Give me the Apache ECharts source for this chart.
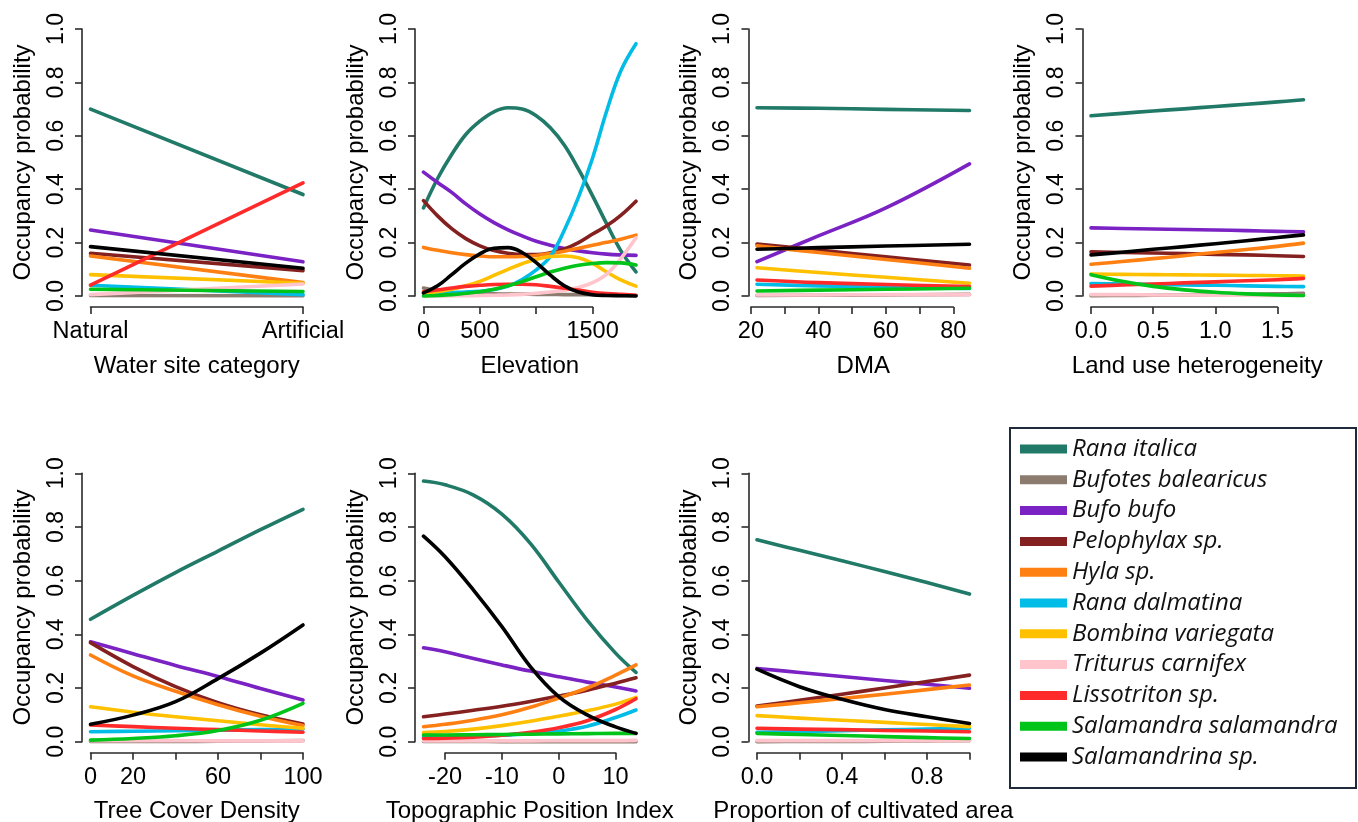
<!DOCTYPE html>
<html><head><meta charset="utf-8">
<script src="https://cdn.jsdelivr.net/npm/echarts@6/dist/echarts.min.js"></script>
<style>html,body{margin:0;padding:0;background:#fff}#c{width:1358px;height:822px}</style>
</head><body><div id="c"></div>
<script>
const species = ['Rana italica','Bufotes balearicus','Bufo bufo','Pelophylax sp.','Hyla sp.','Rana dalmatina','Bombina variegata','Triturus carnifex','Lissotriton sp.','Salamandra salamandra','Salamandrina sp.'];
const colors = ['#217a68','#8c7b6f','#7b22c4','#84201f','#ff8012','#00bce6','#ffc000','#ffc4cc','#ff2a2a','#00c41a','#000000'];

// Panel 1: Water site category
const waterX = [0, 1];
const waterTickLabels = ['Natural', 'Artificial'];
const waterY = [
  [0.70, 0.38], [0.002, 0.001], [0.247, 0.128], [0.16, 0.095], [0.15, 0.05], [0.04, 0.005],
  [0.08, 0.048], [0.005, 0.045], [0.041, 0.424], [0.025, 0.017], [0.185, 0.104]
];
// Panel 2: Elevation
const elevX = [0, 125, 250, 375, 500, 625, 750, 875, 1000, 1125, 1250, 1375, 1500, 1625, 1750, 1885];
const elevTickLabels = ['0', '500', '', '1500'];
const elevY = [
  [0.33, 0.44, 0.53, 0.605, 0.655, 0.69, 0.705, 0.70, 0.675, 0.63, 0.565, 0.475, 0.375, 0.27, 0.17, 0.09],
  [0.03, 0.02, 0.012, 0.01, 0.008, 0.008, 0.007, 0.007, 0.006, 0.006, 0.005, 0.005, 0.004, 0.003, 0.002, 0.002],
  [0.464, 0.425, 0.388, 0.345, 0.307, 0.275, 0.248, 0.225, 0.205, 0.19, 0.178, 0.169, 0.162, 0.157, 0.154, 0.152],
  [0.357, 0.3, 0.252, 0.215, 0.188, 0.17, 0.16, 0.155, 0.155, 0.162, 0.176, 0.2, 0.232, 0.263, 0.302, 0.355],
  [0.182, 0.171, 0.162, 0.155, 0.15, 0.147, 0.147, 0.148, 0.152, 0.159, 0.168, 0.179, 0.19, 0.201, 0.213, 0.228],
  [0.01, 0.011, 0.013, 0.015, 0.018, 0.024, 0.037, 0.062, 0.098, 0.148, 0.247, 0.37, 0.517, 0.693, 0.843, 0.945],
  [0.01, 0.016, 0.025, 0.038, 0.055, 0.077, 0.1, 0.121, 0.138, 0.148, 0.15, 0.143, 0.122, 0.09, 0.06, 0.037],
  [0.0, 0.0, 0.001, 0.001, 0.002, 0.003, 0.004, 0.006, 0.01, 0.015, 0.022, 0.032, 0.05, 0.082, 0.14, 0.218],
  [0.016, 0.023, 0.03, 0.036, 0.04, 0.043, 0.044, 0.044, 0.042, 0.036, 0.029, 0.022, 0.014, 0.009, 0.006, 0.003],
  [0.0, 0.002, 0.005, 0.01, 0.016, 0.025, 0.038, 0.054, 0.072, 0.09, 0.104, 0.115, 0.122, 0.125, 0.124, 0.116],
  [0.012, 0.038, 0.08, 0.123, 0.158, 0.179, 0.181, 0.163, 0.125, 0.078, 0.038, 0.015, 0.005, 0.002, 0.001, 0.0]
];
// Panel 3: DMA
const dmaX = [21.8, 40, 60, 84.8];
const dmaTickLabels = ['20', '', '40', '', '60', '', '80'];
const dmaY = [
  [0.705, 0.703, 0.699, 0.695], [0.002, 0.003, 0.004, 0.006], [0.129, 0.225, 0.33, 0.495],
  [0.195, 0.172, 0.147, 0.116], [0.188, 0.163, 0.137, 0.104], [0.044, 0.038, 0.033, 0.028],
  [0.106, 0.088, 0.07, 0.048], [0.004, 0.004, 0.005, 0.005], [0.06, 0.05, 0.043, 0.035],
  [0.019, 0.022, 0.025, 0.029], [0.175, 0.181, 0.187, 0.194]
];
// Panel 4: Land use heterogeneity
const luhX = [0, 0.25, 0.5, 0.75, 1.0, 1.25, 1.5, 1.71];
const luhTickLabels = ['0.0', '0.5', '1.0', '1.5'];
const luhY = [
  [0.675, 0.684, 0.693, 0.701, 0.71, 0.718, 0.727, 0.735],
  [0.001, 0.002, 0.003, 0.004, 0.005, 0.006, 0.008, 0.01],
  [0.255, 0.253, 0.251, 0.249, 0.247, 0.245, 0.242, 0.24],
  [0.166, 0.163, 0.161, 0.159, 0.156, 0.154, 0.151, 0.148],
  [0.119, 0.129, 0.14, 0.151, 0.163, 0.174, 0.186, 0.198],
  [0.047, 0.045, 0.043, 0.041, 0.04, 0.038, 0.036, 0.035],
  [0.082, 0.081, 0.08, 0.079, 0.078, 0.077, 0.076, 0.075],
  [0.005, 0.005, 0.004, 0.004, 0.003, 0.003, 0.002, 0.002],
  [0.037, 0.041, 0.045, 0.049, 0.053, 0.057, 0.061, 0.066],
  [0.08, 0.055, 0.036, 0.023, 0.014, 0.008, 0.004, 0.002],
  [0.154, 0.164, 0.175, 0.185, 0.196, 0.207, 0.219, 0.229]
];
// Panel 5: Tree Cover Density
const tcdX = [0, 20, 40, 60, 80, 100];
const tcdTickLabels = ['0', '20', '', '60', '', '100'];
const tcdY = [
  [0.456, 0.545, 0.63, 0.71, 0.79, 0.866], [0.001, 0.001, 0.001, 0.002, 0.003, 0.004],
  [0.372, 0.328, 0.284, 0.243, 0.198, 0.155], [0.369, 0.28, 0.205, 0.145, 0.1, 0.066],
  [0.323, 0.245, 0.188, 0.138, 0.095, 0.06], [0.037, 0.039, 0.041, 0.043, 0.045, 0.047],
  [0.13, 0.11, 0.093, 0.078, 0.063, 0.05], [0.004, 0.004, 0.004, 0.003, 0.003, 0.003],
  [0.062, 0.056, 0.05, 0.045, 0.04, 0.035], [0.006, 0.012, 0.022, 0.042, 0.08, 0.143],
  [0.065, 0.099, 0.149, 0.235, 0.33, 0.435]
];
// Panel 6: Topographic Position Index
const tpiX = [-23.8, -20, -15, -10, -5, 0, 5, 10, 13.6];
const tpiTickLabels = ['-20', '-10', '0', '10'];
const tpiY = [
  [0.971, 0.957, 0.919, 0.848, 0.739, 0.595, 0.453, 0.33, 0.258],
  [0.001, 0.001, 0.001, 0.0, 0.0, 0.0, 0.0, 0.0, 0.0],
  [0.35, 0.335, 0.31, 0.286, 0.263, 0.242, 0.222, 0.204, 0.189],
  [0.093, 0.103, 0.117, 0.132, 0.15, 0.17, 0.192, 0.218, 0.238],
  [0.056, 0.065, 0.08, 0.1, 0.128, 0.163, 0.2, 0.248, 0.286],
  [0.018, 0.019, 0.021, 0.024, 0.03, 0.04, 0.058, 0.09, 0.118],
  [0.034, 0.038, 0.047, 0.06, 0.076, 0.095, 0.115, 0.14, 0.165],
  [0.003, 0.003, 0.003, 0.003, 0.003, 0.004, 0.004, 0.004, 0.005],
  [0.012, 0.013, 0.017, 0.024, 0.035, 0.052, 0.078, 0.12, 0.16],
  [0.025, 0.025, 0.026, 0.027, 0.028, 0.029, 0.03, 0.031, 0.031],
  [0.766, 0.689, 0.565, 0.429, 0.28, 0.168, 0.1, 0.055, 0.031]
];
// Panel 7: Proportion of cultivated area
const cultX = [0, 0.2, 0.4, 0.6, 0.8, 1.0];
const cultTickLabels = ['0.0', '', '0.4', '', '0.8', ''];
const cultY = [
  [0.752, 0.713, 0.674, 0.634, 0.593, 0.55], [0.0, 0.001, 0.001, 0.002, 0.003, 0.004],
  [0.273, 0.258, 0.243, 0.228, 0.214, 0.199], [0.133, 0.154, 0.177, 0.2, 0.224, 0.248],
  [0.13, 0.145, 0.161, 0.177, 0.194, 0.211], [0.035, 0.038, 0.041, 0.044, 0.047, 0.05],
  [0.097, 0.088, 0.08, 0.072, 0.064, 0.056], [0.004, 0.004, 0.004, 0.004, 0.004, 0.004],
  [0.05, 0.047, 0.045, 0.042, 0.04, 0.037], [0.031, 0.027, 0.023, 0.019, 0.015, 0.012],
  [0.27, 0.205, 0.158, 0.12, 0.093, 0.068]
];

const panels = [
  {title:'Water site category', x:waterX, y:waterY, xmin:0, xmax:1, tmin:0, tmax:1, step:1, labels:waterTickLabels, col:0, row:0},
  {title:'Elevation', x:elevX, y:elevY, xmin:0, xmax:1885, tmin:0, tmax:1500, step:500, labels:elevTickLabels, col:1, row:0},
  {title:'DMA', x:dmaX, y:dmaY, xmin:21.8, xmax:84.8, tmin:20, tmax:80, step:10, labels:dmaTickLabels, col:2, row:0},
  {title:'Land use heterogeneity', x:luhX, y:luhY, xmin:0, xmax:1.71, tmin:0, tmax:1.5, step:0.5, labels:luhTickLabels, col:3, row:0},
  {title:'Tree Cover Density', x:tcdX, y:tcdY, xmin:0, xmax:100, tmin:0, tmax:100, step:20, labels:tcdTickLabels, col:0, row:1},
  {title:'Topographic Position Index', x:tpiX, y:tpiY, xmin:-23.8, xmax:13.6, tmin:-20, tmax:10, step:10, labels:tpiTickLabels, col:1, row:1},
  {title:'Proportion of cultivated area', x:cultX, y:cultY, xmin:0, xmax:1, tmin:0, tmax:1, step:0.2, labels:cultTickLabels, col:2, row:1}
];

const colLeft = [90.5, 423.5, 757, 1091];
const dataWidth = 212.5;
const rowTop = [29, 473.3];
const rowHeight = [267, 268.4];
const FONT = 'Liberation Sans, Arial, sans-serif';
const axisColor = '#2a2a2a';

const grids = [], xAxes = [], yAxes = [], series = [];
panels.forEach(p => {
  const L = colLeft[p.col], W = dataWidth, T = rowTop[p.row], H = rowHeight[p.row];
  const gi = grids.length;
  grids.push({left:L, top:T, width:W, height:H, outerBoundsMode:'none', containLabel:false});
  const xi = xAxes.length;
  xAxes.push({gridIndex:gi, type:'value', min:p.xmin, max:p.xmax,
    axisLine:{show:false, onZero:false}, axisTick:{show:false}, axisLabel:{show:false}, splitLine:{show:false},
    name:p.title, nameLocation:'middle', nameGap:58,
    nameTextStyle:{fontFamily:FONT, fontSize:24, color:'#000'}});
  const yi = yAxes.length;
  yAxes.push({gridIndex:gi, type:'value', min:0, max:1, interval:0.2, offset:8.5,
    axisLine:{show:true, onZero:false, lineStyle:{color:axisColor, width:1.6}},
    axisTick:{show:true, length:7, lineStyle:{color:axisColor, width:1.6}},
    axisLabel:{rotate:90, margin:14, fontFamily:FONT, fontSize:23, color:'#000', formatter:v=>v.toFixed(1)},
    splitLine:{show:false},
    name:'Occupancy probability', nameLocation:'middle', nameRotate:90, nameGap:47,
    nameTextStyle:{fontFamily:FONT, fontSize:24, color:'#000'}});
  const scale = W / (p.xmax - p.xmin);
  const ai = grids.length;
  grids.push({left:L + (p.tmin - p.xmin) * scale, top:T, width:(p.tmax - p.tmin) * scale, height:H, outerBoundsMode:'none', containLabel:false});
  xAxes.push({gridIndex:ai, type:'value', min:p.tmin, max:p.tmax, interval:p.step, offset:11,
    axisLine:{show:true, onZero:false, lineStyle:{color:axisColor, width:1.6}},
    axisTick:{show:true, length:7, lineStyle:{color:axisColor, width:1.6}},
    axisLabel:{margin:13, fontFamily:FONT, fontSize:23.5, color:'#000', showMinLabel:true, showMaxLabel:true,
      formatter:v=>{const k=Math.round((v-p.tmin)/p.step); return p.labels[k] ?? '';}},
    splitLine:{show:false}});
  yAxes.push({gridIndex:ai, type:'value', min:0, max:1, show:false, axisLine:{onZero:false}});
  species.forEach((s, k) => {
    series.push({type:'line', name:s, xAxisIndex:xi, yAxisIndex:yi, color:colors[k],
      data:p.x.map((xv, j) => [xv, p.y[k][j]]),
      smooth:0.4, showSymbol:false, symbol:'none', clip:false, silent:true,
      lineStyle:{width:3.6, color:colors[k], cap:'round', join:'round'}});
  });
});

const chart = echarts.init(document.getElementById('c'), null, {renderer:'canvas'});
chart.setOption({
  animation:false,
  backgroundColor:'#fff',
  grid:grids, xAxis:xAxes, yAxis:yAxes, series:series,
  legend:{data:species, orient:'vertical', left:1020, top:437, padding:0,
    itemWidth:47, itemHeight:9, itemGap:6.8, itemTextGap:15, icon:'rect', selectedMode:false,
    textStyle:{fontFamily:'Open Sans, Noto Sans, sans-serif', fontStyle:'italic', fontSize:24, lineHeight:24, color:'#111'}},
  graphic:[{type:'rect', shape:{x:1010, y:428, width:346, height:360},
    style:{fill:'none', stroke:'#1f2a3a', lineWidth:2}, silent:true}]
});
</script></body></html>
